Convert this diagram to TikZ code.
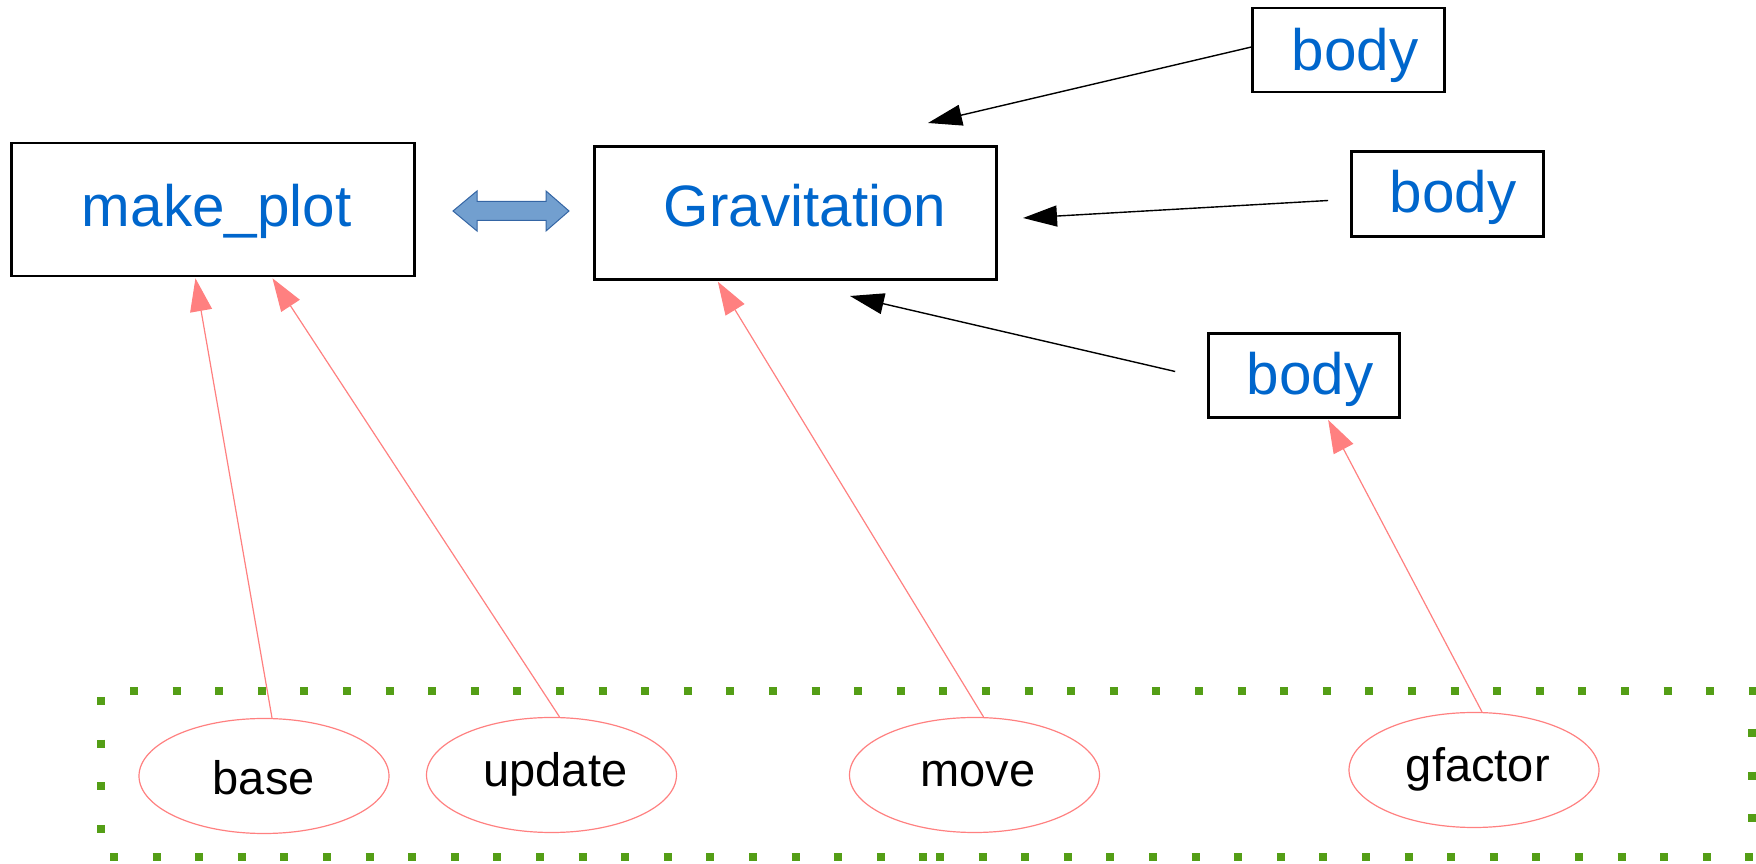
\documentclass[tikz,border=0pt]{standalone}
\usepackage{fontspec}
\setmainfont{Liberation Sans}
\usetikzlibrary{arrows.meta,shapes.geometric,calc}
\definecolor{fnblue}{HTML}{0066CC}
\definecolor{linkpink}{HTML}{FF8080}
\definecolor{framegreen}{HTML}{549E16}
\definecolor{dblfill}{HTML}{729FCF}
\definecolor{dbldraw}{HTML}{3465A4}
\begin{document}
\begin{tikzpicture}[x=0.25pt,y=-0.25pt,
  box/.style={draw=black, line width=0.68pt, rectangle, inner sep=0pt},
  boxlabel/.style={text=fnblue, font=\fontsize{14.6}{17}\selectfont, anchor=base, inner sep=0pt},
  oval/.style={ellipse, draw=linkpink, line width=0.3pt, minimum width=62.5pt, minimum height=28.75pt, inner sep=0pt},
  ovallabel/.style={text=black, font=\fontsize{11.75}{14}\selectfont, anchor=base, inner sep=0pt},
  callarrow/.style={draw=black, line width=0.35pt, -{Triangle[length=8.5pt,width=5.25pt]}},
  usearrow/.style={draw=linkpink, line width=0.3pt, -{Triangle[length=8.25pt,width=5.5pt]}},
  framedots/.style={draw=framegreen, line width=2pt, line cap=butt, dash pattern=on 2pt off 8.65pt}
]
\useasboundingbox (0,0) rectangle (1756,864);

% dotted frame around the helper functions
\draw[framedots] (130,691) -- (1760,691);
\draw[framedots] (1752,729) -- (1752,832);
\draw[framedots] (110,857) -- (930,857);
\draw[framedots] (936,857) -- (1760,857);
\draw[framedots] (101,697) -- (101,835);

% main boxes
\node[box, minimum width=100.75pt, minimum height=33.25pt] (mp) at (213.3,209.4) {};
\node[boxlabel] (mplabel) at (216.7,227) {make\_plot};
\node[box, minimum width=100.5pt, minimum height=33.25pt] (grav) at (795.2,212.8) {};
\node[boxlabel] (gravlabel) at (805,227) {Gravitation};

% body boxes
\node[box, minimum width=48pt, minimum height=21pt] (b1) at (1348.8,50) {};
\node[boxlabel] (b1label) at (1355,71) {body};
\node[box, minimum width=48pt, minimum height=21.25pt] (b2) at (1447.5,194) {};
\node[boxlabel] (b2label) at (1453,213) {body};
\node[box, minimum width=47.75pt, minimum height=21pt] (b3) at (1304,375.5) {};
\node[boxlabel] (b3label) at (1310,395) {body};

% two-way link between make_plot and Gravitation
\draw[draw=dbldraw, fill=dblfill, line width=0.25pt]
  (453,211) -- (477,191) -- (477,201.5) -- (546,201.5) -- (546,191) -- (569,211)
  -- (546,231) -- (546,220.5) -- (477,220.5) -- (477,231) -- cycle;

% helper ellipses
\node[oval] (base) at (264,776) {};
\node[ovallabel] (baselabel) at (263.7,795) {base};
\node[oval] (update) at (551.5,775) {};
\node[ovallabel] (updatelabel) at (555.4,787) {update};
\node[oval] (move) at (974.5,775) {};
\node[ovallabel] (movelabel) at (978,787) {move};
\node[oval] (gfactor) at (1474,770) {};
\node[ovallabel] (gfactorlabel) at (1477.8,782) {gfactor};

% arrow ends
\coordinate (g1) at (928,123);
\coordinate (g2) at (1023,218);
\coordinate (g3) at (850,296);
\coordinate (mpA) at ($(mp.south west)+(185,1)$);
\coordinate (mpB) at ($(mp.south west)+(262,1)$);
\coordinate (gravA) at ($(grav.south west)+(125,1)$);
\coordinate (b3A) at ($(b3.south west)+(121,1)$);

% bodies feeding Gravitation
\draw[callarrow] ($(b1.west)+(0,-3)$) -- (g1);
\draw[callarrow] ($(b2.west)+(-22,6.5)$) -- (g2);
\draw[callarrow] ($(b3.west)+(-32,-4)$) -- (g3);

% helpers used by the boxes
\draw[usearrow] ($(base.north)+(8,0)$) -- (mpA);
\draw[usearrow] ($(update.north)+(8,0)$) -- (mpB);
\draw[usearrow] ($(move.north)+(9,0)$) -- (gravA);
\draw[usearrow] ($(gfactor.north)+(8,0)$) -- (b3A);
\end{tikzpicture}
\end{document}
